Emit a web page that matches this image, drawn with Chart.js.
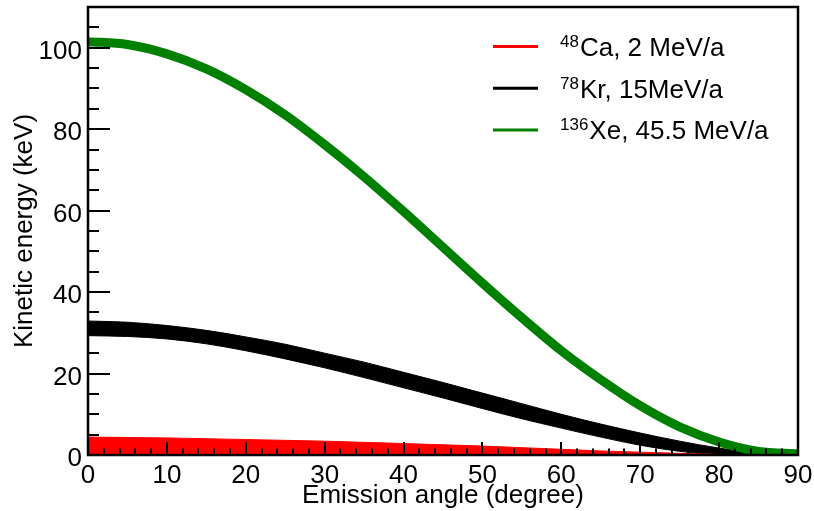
<!DOCTYPE html>
<html>
<head>
<meta charset="utf-8">
<script src="https://cdn.jsdelivr.net/npm/chart.js@4.4.1/dist/chart.umd.min.js"></script>
<style>
  html, body { margin: 0; padding: 0; background: #fff; }
  #wrap { width: 814px; height: 511px; }
</style>
</head>
<body>
<div id="wrap"><canvas id="myChart"></canvas></div>
<script>
// angles (degree)
const angles = [0, 5, 10, 15, 20, 25, 30, 35, 40, 45, 50, 55, 60, 65, 70, 75, 80, 85, 90];

// 136Xe, 45.5 MeV/a  (centre of the green band, keV)
const xeEnergy = [101.5, 100.8, 98.5, 94.8, 89.7, 83.5, 76.2, 68.3, 59.8, 51.0, 42.2, 33.7, 25.6, 18.5, 12.1, 6.9, 3.2, 0.9, 0.3];

// 78Kr, 15MeV/a  (upper / lower edge of the black band)
const krHigh = [32.9, 32.6, 31.8, 30.6, 29.0, 27.2, 25.0, 22.8, 20.3, 17.8, 15.2, 12.6, 10.0, 7.6, 5.4, 3.4, 1.7, 0.4, 0];
const krLow  = [29.3, 29.1, 28.5, 27.3, 25.6, 23.6, 21.4, 19.0, 16.5, 14.0, 11.4, 8.9, 6.6, 4.4, 2.4, 0.9, 0.1, 0, 0];

// 48Ca, 2 MeV/a  (upper edge of the red band, filled down to 0)
const caHigh = [4.4, 4.3, 4.2, 4.0, 3.8, 3.6, 3.4, 3.1, 2.8, 2.5, 2.2, 1.8, 1.4, 1.0, 0.7, 0.4, 0.15, 0, 0];

// legend
const legendMass = ['48', '78', '136'];
const legendText = ['Ca, 2 MeV/a', 'Kr, 15MeV/a', 'Xe, 45.5 MeV/a'];
const legendColor = ['#ff0000', '#000000', '#008000'];

const FONT = "'Liberation Sans', Arial, sans-serif";

const pts = arr => angles.map((a, i) => ({x: a, y: arr[i]}));

// ROOT-like frame + ticks pointing inside
const frameTicks = {
  id: 'frameTicks',
  afterDatasetsDraw(chart) {
    const ctx = chart.ctx;
    const {left, right, top, bottom} = chart.chartArea;
    const xs = chart.scales.x, ys = chart.scales.y;
    ctx.save();
    ctx.strokeStyle = '#000';
    ctx.lineWidth = 2;
    ctx.beginPath();
    for (let v = 0; v <= 90; v += 2) {
      const px = Math.round(xs.getPixelForValue(v));
      const len = v % 10 === 0 ? 13 : 6.5;
      ctx.moveTo(px, bottom);
      ctx.lineTo(px, bottom - len);
    }
    for (let v = 0; v <= 110; v += 5) {
      const py = Math.round(ys.getPixelForValue(v));
      const len = v % 20 === 0 ? 22 : 11;
      ctx.moveTo(left, py);
      ctx.lineTo(left + len, py);
    }
    ctx.stroke();
    ctx.lineWidth = 2.5;
    ctx.strokeRect(left, top, right - left, bottom - top);
    ctx.restore();
  }
};

// legend with superscript mass numbers
const isoLegend = {
  id: 'isoLegend',
  afterDraw(chart) {
    const ctx = chart.ctx;
    ctx.save();
    ctx.textBaseline = 'alphabetic';
    ctx.fillStyle = '#000';
    legendText.forEach((t, i) => {
      const base = 56 + i * 41.7;
      ctx.strokeStyle = legendColor[i];
      ctx.lineWidth = 3;
      ctx.beginPath();
      ctx.moveTo(493, base - 9.5);
      ctx.lineTo(538, base - 9.5);
      ctx.stroke();
      ctx.font = '17px ' + FONT;
      ctx.fillText(legendMass[i], 560, base - 9);
      const w = ctx.measureText(legendMass[i]).width;
      ctx.font = '26px ' + FONT;
      ctx.fillText(t, 560 + w + 1, base);
    });
    ctx.restore();
  }
};

new Chart(
  document.getElementById('myChart'),
  {
    type: 'line',
    data: {
      datasets: [
        {
          label: '48Ca, 2 MeV/a',
          data: pts(caHigh),
          borderColor: '#ff0000',
          backgroundColor: '#ff0000',
          borderWidth: 1,
          fill: 'origin',
          pointRadius: 0,
          cubicInterpolationMode: 'monotone'
        },
        {
          label: '136Xe, 45.5 MeV/a',
          data: pts(xeEnergy),
          borderColor: '#008000',
          borderWidth: 9,
          fill: false,
          pointRadius: 0,
          borderCapStyle: 'round',
          cubicInterpolationMode: 'monotone'
        },
        {
          label: '78Kr, 15MeV/a',
          data: pts(krHigh),
          borderColor: '#000',
          backgroundColor: '#000',
          borderWidth: 1,
          fill: '+1',
          pointRadius: 0,
          cubicInterpolationMode: 'monotone'
        },
        {
          label: '78Kr low',
          data: pts(krLow),
          borderColor: '#000',
          borderWidth: 1,
          fill: false,
          pointRadius: 0,
          cubicInterpolationMode: 'monotone'
        }
      ]
    },
    options: {
      animation: false,
      responsive: true,
      maintainAspectRatio: false,
      devicePixelRatio: 1,
      layout: { padding: { top: 7, right: 16, left: 0, bottom: 0 } },
      scales: {
        x: {
          type: 'linear',
          min: 0,
          max: 90,
          grid: { display: false, drawTicks: false },
          border: { display: false },
          ticks: {
            stepSize: 10,
            color: '#000',
            padding: 5,
            maxRotation: 0,
            font: { family: FONT, size: 26 }
          },
          title: {
            display: true,
            text: 'Emission angle (degree)',
            color: '#000',
            padding: 0,
            font: { family: FONT, size: 26 }
          },
          afterFit: s => { s.height = 56; s.paddingLeft = 0; s.paddingRight = 0; }
        },
        y: {
          min: 0,
          max: 110,
          grid: { display: false, drawTicks: false },
          border: { display: false },
          afterBuildTicks: s => { s.ticks = s.ticks.filter(t => t.value % 20 === 0); },
          ticks: {
            stepSize: 20,
            color: '#000',
            padding: 6,
            labelOffset: 4,
            font: { family: FONT, size: 26 }
          },
          title: {
            display: true,
            text: 'Kinetic energy (keV)',
            color: '#000',
            padding: 9,
            font: { family: FONT, size: 26 }
          },
          afterFit: s => { s.width = 88; s.paddingTop = 0; s.paddingBottom = 0; }
        }
      },
      plugins: {
        legend: { display: false },
        tooltip: { enabled: false }
      }
    },
    plugins: [frameTicks, isoLegend]
  }
);
</script>
</body>
</html>
